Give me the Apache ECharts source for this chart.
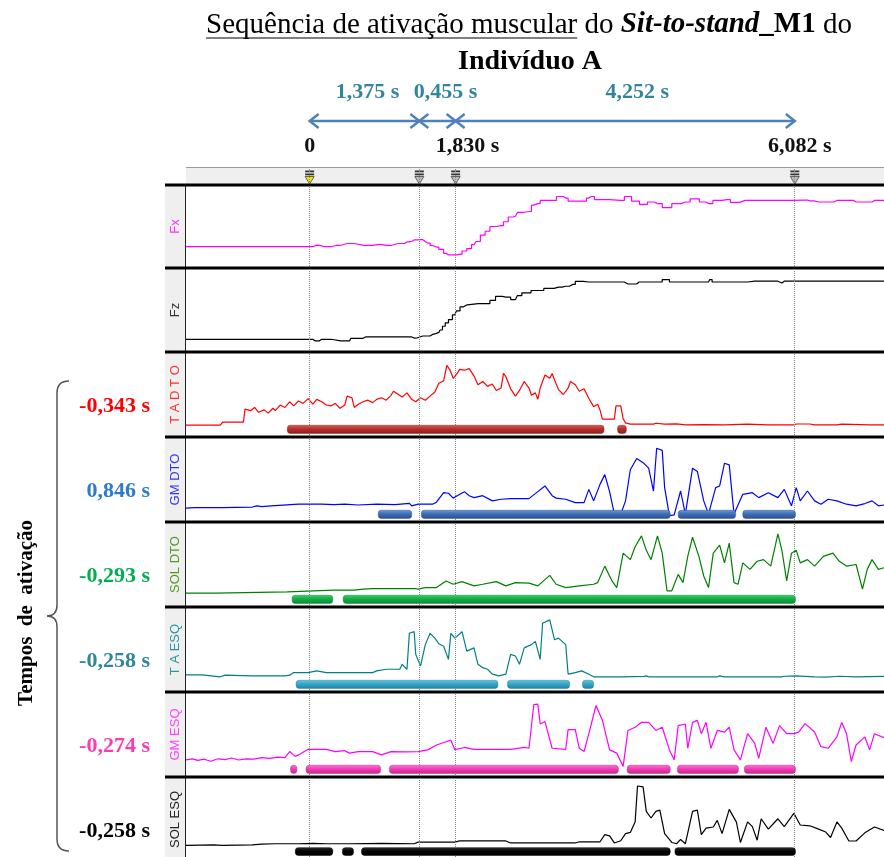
<!DOCTYPE html>
<html>
<head>
<meta charset="utf-8">
<script src="https://cdn.jsdelivr.net/npm/echarts@6/dist/echarts.min.js"></script>
<style>
html, body { margin: 0; padding: 0; background: #fff; }
#chart { width: 884px; height: 857px; }
</style>
</head>
<body>
<div id="chart"></div>
<script>
// eixo do tempo (s)
const tMin = -1.55, tMax = 7.2;

// eventos do sit-to-stand
const eventTimes = [0, 1.375, 1.830, 6.082];
const eventLabels = ['0', '', '1,830 s', '6,082 s'];
const phases = [[0, 1.375], [1.375, 1.830], [1.830, 6.082]];
const phaseLabels = ['1,375 s', '0,455 s', '4,252 s'];

const channels = ['Fx', 'Fz', 'T A D T O', 'GM DTO', 'SOL DTO', 'T A ESQ', 'GM ESQ', 'SOL ESQ'];
const activationLabels = ['-0,343 s', '0,846 s', '-0,293 s', '-0,258 s', '-0,274 s', '-0,258 s'];

// sinais [t, % da altura do painel]
const fx = [[-1.55,24.4],[0.04,24.4],[0.05,26.4],[0.12,26],[0.15,25.5],[0.18,24.4],[0.27,24.4],[0.28,26],[0.38,26],[0.39,28.5],[0.56,28.5],[0.57,26],[0.79,26],[0.80,27],[0.90,27],[0.91,26],[1.02,26],[1.03,28.5],[1.19,28.5],[1.22,30.5],[1.28,31.3],[1.31,33],[1.39,33.3],[1.45,31],[1.48,29],[1.54,26],[1.59,24],[1.65,21],[1.71,16],[1.74,14],[1.82,14],[1.88,15],[1.94,19],[2.00,22],[2.06,27],[2.11,31],[2.17,39],[2.23,44],[2.29,50],[2.40,51],[2.46,56],[2.52,62],[2.58,63],[2.63,68],[2.75,69],[2.81,77],[2.86,79],[2.92,83],[3.04,83],[3.15,88],[3.21,86],[3.27,82],[3.44,82],[3.50,86],[3.53,88],[3.61,84],[3.90,83],[3.99,88],[4.08,82],[4.19,78],[4.28,81],[4.36,79],[4.48,74],[4.60,79],[4.71,81],[4.83,85],[4.94,81],[5.00,79],[5.11,83],[5.23,84],[5.32,80.5],[5.46,83],[5.87,83],[6.21,83.5],[6.27,82.5],[6.38,81],[6.53,81],[6.61,83],[6.79,83],[6.85,81],[7.02,81],[7.08,83],[7.2,83]];
const fz = [[-1.55,13.4],[0.04,13.4],[0.07,11.4],[0.12,11.4],[0.15,13.4],[0.27,13.4],[0.28,11.4],[0.50,11.4],[0.53,14.6],[0.67,14.6],[0.70,16.3],[1.28,16.3],[1.30,14.8],[1.33,15],[1.36,17.5],[1.48,17.5],[1.54,19.5],[1.58,20.5],[1.62,22],[1.65,25],[1.68,29.7],[1.72,34],[1.76,38],[1.82,44],[1.86,49],[1.91,54],[1.95,56.5],[2.00,58],[2.23,58],[2.29,62],[2.37,67],[2.46,66],[2.58,63],[2.63,68],[2.69,71.5],[2.86,74.4],[3.01,77],[3.12,78.5],[3.21,79.7],[3.30,82],[3.36,85.8],[3.50,85],[3.90,85],[3.99,82.5],[4.10,82.5],[4.13,85],[4.36,85],[4.48,88],[4.54,85],[4.65,85],[5.00,85],[5.03,88],[5.06,85],[5.40,85],[5.58,86],[5.87,86],[5.92,83.7],[5.95,86],[7.2,86]];
const taDto = [[-1.55,12.2],[-1.12,12.2],[-1.11,13.4],[-1.09,16],[-0.83,16],[-0.81,32],[-0.74,30],[-0.69,34],[-0.64,28],[-0.57,31],[-0.52,27],[-0.46,33],[-0.43,30],[-0.37,37],[-0.31,34],[-0.25,41],[-0.20,36],[-0.14,42],[-0.08,39],[-0.02,45],[0.04,38],[0.09,44],[0.15,41],[0.21,37],[0.27,36],[0.32,39],[0.38,33],[0.44,37],[0.47,48],[0.53,46],[0.56,34],[0.61,38],[0.67,41],[0.73,43],[0.79,40],[0.84,44],[0.90,46],[0.96,43],[1.02,49],[1.05,54],[1.10,51],[1.16,47],[1.22,52],[1.28,44],[1.33,41],[1.39,46],[1.45,43],[1.51,48],[1.57,53],[1.62,64],[1.68,67],[1.72,86],[1.76,80],[1.80,70],[1.85,76],[1.88,81],[1.94,80],[2.00,82],[2.06,73],[2.11,62],[2.17,66],[2.23,60],[2.29,63],[2.34,55],[2.40,58],[2.43,76],[2.46,72],[2.52,57],[2.58,48],[2.63,55],[2.69,66],[2.75,58],[2.78,49],[2.83,52],[2.86,44],[2.89,58],[2.95,74],[3.01,70],[3.04,76],[3.07,68],[3.12,56],[3.18,50],[3.24,58],[3.27,66],[3.33,62],[3.38,54],[3.44,57],[3.50,45],[3.56,35],[3.61,38],[3.64,31],[3.67,19.5],[3.82,19.5],[3.84,36],[3.90,36],[3.93,20],[3.96,15],[4.02,13.5],[4.31,13.5],[4.34,14.5],[4.45,13.5],[4.60,13.8],[4.71,12.4],[4.94,12.8],[5.20,12.4],[5.49,13.5],[5.75,12.4],[6.07,12.4],[6.10,13.6],[6.27,13.6],[6.33,12.4],[6.61,12.4],[6.67,13.4],[7.02,12.6],[7.2,12.6]];
const gmDto = [[-1.55,14.6],[-1.45,15.2],[-1.10,15.2],[-0.72,16],[-0.66,17.5],[-0.60,16.5],[-0.48,17.5],[-0.14,19.5],[0.15,19.5],[0.30,19],[0.44,19.5],[0.61,18.5],[0.84,19.5],[1.07,19],[1.25,20.5],[1.28,17.5],[1.36,19.5],[1.54,19.5],[1.59,22],[1.62,26],[1.68,33.7],[1.74,33],[1.80,27],[1.85,30],[1.94,35],[2.00,30],[2.06,27.6],[2.17,30],[2.29,23.6],[2.40,25.6],[2.52,26.4],[2.75,26.4],[2.86,35],[2.95,42],[3.04,30],[3.09,27],[3.21,25.6],[3.33,21.5],[3.44,21.5],[3.50,37.8],[3.56,23.6],[3.64,44],[3.70,56],[3.76,35],[3.82,7.3],[3.90,7.3],[3.96,23.6],[4.02,62],[4.10,76],[4.19,70],[4.25,64],[4.31,35.8],[4.35,88.6],[4.42,86],[4.45,40],[4.51,5.3],[4.57,6.3],[4.65,35.8],[4.71,7.3],[4.80,64],[4.86,60],[4.94,23.6],[5.00,7.3],[5.09,40],[5.14,42],[5.20,70],[5.26,68],[5.32,7.3],[5.43,31.7],[5.55,33.7],[5.63,27.6],[5.75,33.7],[5.87,27.6],[5.95,37.8],[6.04,17.5],[6.10,40],[6.15,23.6],[6.24,35.8],[6.33,23.6],[6.41,19.5],[6.50,25.6],[6.61,23.6],[6.73,19.5],[6.85,17.5],[6.96,20.3],[7.05,23.6],[7.13,17.5],[7.2,18.5]];
const solDto = [[-1.55,14.6],[-1.18,14.6],[-1.16,16.3],[-0.28,16.3],[-0.26,18.3],[0.30,18.3],[0.32,16.3],[0.38,18.3],[0.56,18.3],[0.67,19.5],[0.79,20.3],[1.33,20.3],[1.36,19.5],[1.45,21.5],[1.59,21.5],[1.71,29.7],[1.80,25.6],[1.91,28.9],[2.06,23.6],[2.17,25.6],[2.34,28.9],[2.46,23.6],[2.58,27.6],[2.75,27],[2.86,23.6],[3.01,36.6],[3.09,25.6],[3.21,21.5],[3.38,23.6],[3.56,25.6],[3.61,27.6],[3.70,48],[3.79,29.7],[3.85,21.5],[3.93,64],[4.02,56],[4.08,72],[4.16,85.4],[4.22,67.5],[4.28,56],[4.36,85.4],[4.42,64],[4.48,17.5],[4.54,17.5],[4.62,37.8],[4.68,27.6],[4.74,60],[4.80,83.7],[4.88,60],[4.94,35.8],[5.00,21.5],[5.06,64],[5.14,74],[5.20,52],[5.26,76.4],[5.32,27.6],[5.37,25.6],[5.43,52],[5.52,44],[5.61,54],[5.69,56],[5.78,48],[5.87,87.8],[5.92,67.5],[5.98,29.7],[6.04,64],[6.10,67.5],[6.15,52],[6.24,56],[6.33,48],[6.44,60],[6.56,64],[6.64,54],[6.73,48],[6.85,50],[6.93,19.5],[6.99,44],[7.05,56],[7.13,44],[7.2,46]];
const taEsq = [[-1.55,18.7],[-1.35,18.7],[-1.33,16.3],[-1.12,16.3],[-1.06,18.3],[-0.72,17.5],[-0.31,17.5],[-0.25,18.3],[-0.20,21.5],[-0.02,21.5],[0.09,23.6],[0.21,21.5],[0.79,21.5],[0.84,23.6],[0.96,25.6],[1.13,25.6],[1.16,31.7],[1.22,25.6],[1.25,70],[1.31,72],[1.33,44],[1.39,29.7],[1.45,56],[1.51,70],[1.57,64],[1.62,57],[1.68,54],[1.74,37.8],[1.77,70],[1.82,64],[1.91,72],[1.97,48],[2.06,52],[2.11,31.7],[2.17,27.6],[2.23,25.6],[2.29,19.5],[2.37,17.5],[2.46,19.5],[2.52,44],[2.58,42],[2.63,31.7],[2.69,52],[2.78,56],[2.83,60],[2.89,37.8],[2.92,82.5],[3.01,86.6],[3.07,62],[3.12,64],[3.21,56],[3.24,19.5],[3.33,21.5],[3.41,23.6],[3.50,19.5],[3.56,16.3],[3.90,16.3],[4.19,16.8],[4.22,17.5],[4.25,16.3],[5.11,16.3],[5.14,17.5],[5.20,16.3],[5.92,16.3],[5.95,17],[6.10,17.5],[6.33,16.3],[6.47,15.8],[6.64,17],[6.85,16.3],[7.2,16.8]];
const gmEsq = [[-1.55,18.7],[-1.47,20],[-1.40,18],[-1.32,19.5],[-1.24,17],[-1.15,20],[-1.06,19],[-0.98,21],[-0.89,18.5],[-0.80,20],[-0.70,19.5],[-0.60,21.5],[-0.50,20.5],[-0.40,22],[-0.31,21.5],[-0.25,29],[-0.18,23],[-0.14,24.8],[-0.02,31.7],[0.09,31.7],[0.21,31.7],[0.32,28.9],[0.44,30],[0.50,27],[0.61,28.9],[0.79,28.9],[0.90,24.8],[1.02,28.9],[1.19,28.5],[1.36,28.9],[1.48,31],[1.59,37],[1.71,41],[1.77,43],[1.82,31.3],[1.94,34],[2.06,31.7],[2.52,31.7],[2.69,34],[2.75,33],[2.81,87],[2.86,87.5],[2.89,63],[2.95,66],[3.04,33],[3.21,31.7],[3.24,56],[3.33,56],[3.38,33],[3.44,28.9],[3.50,51],[3.59,85.8],[3.67,67.5],[3.76,31],[3.85,27],[3.93,10.6],[3.99,55],[4.08,59],[4.16,65],[4.25,65],[4.34,55],[4.42,59],[4.51,31],[4.57,18.7],[4.62,61],[4.71,63],[4.74,33],[4.80,65],[4.86,67.5],[4.91,51],[4.97,65],[5.03,33],[5.11,55],[5.20,53],[5.26,59],[5.32,31],[5.40,18.7],[5.49,51],[5.58,39],[5.63,20.7],[5.72,59],[5.81,39],[5.89,61],[5.98,51],[6.07,51],[6.13,53],[6.21,63.4],[6.33,53],[6.41,35],[6.50,33],[6.61,47],[6.67,65],[6.73,51],[6.79,16.7],[6.85,37],[6.96,47],[7.02,31],[7.08,51],[7.2,46]];
const solEsq = [[-1.55,15],[-1.20,15.5],[-1.10,15],[-0.72,15.5],[-0.60,16.5],[-0.43,17],[-0.14,17],[0.04,17.5],[0.21,17],[0.50,17],[0.90,17.5],[1.31,17],[1.36,19],[1.82,19],[1.88,20.6],[2.46,20.6],[2.52,18],[3.33,18],[3.38,19.5],[3.64,19.5],[3.70,28.7],[3.76,27],[3.82,18],[3.90,20.8],[3.96,30],[4.02,31.5],[4.08,45],[4.11,91],[4.18,90],[4.22,58.5],[4.28,50],[4.34,58.5],[4.39,60],[4.45,30],[4.54,18.6],[4.60,17],[4.65,22.5],[4.71,17],[4.80,58.5],[4.86,60],[4.91,28.7],[4.97,37],[5.06,38.5],[5.11,47],[5.17,30],[5.26,61],[5.35,44.7],[5.40,18.6],[5.49,45],[5.55,39],[5.61,21.5],[5.66,49],[5.75,35.7],[5.87,49],[5.95,39],[6.07,56],[6.15,41],[6.27,40],[6.38,35.7],[6.47,32],[6.53,25],[6.61,45],[6.67,37],[6.76,20.5],[6.85,20.5],[6.96,31],[7.08,38.5],[7.2,34]];

// períodos de ativação [início, fim] (s)
const taDtoOn = [[-0.28, 3.69], [3.86, 3.97]];
const gmDtoOn = [[0.86, 1.28], [1.40, 4.52], [4.62, 5.34], [5.43, 6.09]];
const solDtoOn = [[-0.22, 0.29], [0.42, 6.09]];
const taEsqOn = [[-0.17, 2.36], [2.48, 3.26], [3.42, 3.56]];
const gmEsqOn = [[-0.24, -0.16], [-0.045, 0.89], [1.0, 3.87], [3.98, 4.52], [4.61, 5.375], [5.45, 6.09]];
const solEsqOn = [[-0.18, 0.29], [0.41, 0.55], [0.65, 4.52], [4.58, 6.09]];

const signals = [fx, fz, taDto, gmDto, solDto, taEsq, gmEsq, solEsq];
const activations = [null, null, taDtoOn, gmDtoOn, solDtoOn, taEsqOn, gmEsqOn, solEsqOn];

const lineColors = ['#ff00ff', '#000000', '#ff0000', '#0000ff', '#008000', '#008080', '#ff00ff', '#000000'];
const nameColors = ['#ff33ff', '#333333', '#ff3030', '#3333ff', '#4f9a20', '#239a9a', '#ff40ff', '#222222'];
const barColors = [null, null,
  ['#d9605c', '#b5302c', '#8c1e1b'],
  ['#6f9ad6', '#3d6fb6', '#2a5290'],
  ['#3cd06a', '#13ad47', '#0b8a35'],
  ['#6cc6e0', '#35a6c8', '#2384a2'],
  ['#ff73d2', '#f23cb4', '#c42690'],
  ['#333333', '#000000', '#000000']];
const activationColors = ['#ff0000', '#2e7bc9', '#00b050', '#31859c', '#ff3aae', '#000000'];

// layout
const serif = '"Liberation Serif", "Times New Roman", serif';
const sans = '"Liberation Sans", Arial, sans-serif';
const plotLeft = 186, plotWidth = 698;
const edges = [185, 268, 352, 437, 522, 607, 692, 777, 862];
const phaseShift = [3, 8, 12];
const eventShift = [0, 0, 12, 5];

const chart = echarts.init(document.getElementById('chart'));

const grids = [
  { left: plotLeft, width: plotWidth, top: 108, height: 26 },
  { left: plotLeft, width: plotWidth, top: 168, height: 16, show: true, backgroundColor: '#efefef', borderWidth: 0 }
];
const xAxes = [], yAxes = [];
for (let i = 0; i < channels.length; i++) {
  grids.push({ left: plotLeft, width: plotWidth, top: edges[i] + 2, height: edges[i + 1] - edges[i] - 4 });
}
grids.forEach((g, i) => {
  xAxes.push({ gridIndex: i, type: 'value', min: tMin, max: tMax, show: false });
  yAxes.push({ gridIndex: i, type: 'value', min: 0, max: i < 2 ? 1 : 100, show: false });
});

const series = [];

// setas das fases
series.push({
  type: 'custom', xAxisIndex: 0, yAxisIndex: 0, silent: true,
  data: phases,
  renderItem: function (params, api) {
    const p1 = api.coord([api.value(0), 0.5]);
    const p2 = api.coord([api.value(1), 0.5]);
    const y = p1[1];
    const st = { stroke: '#4f81bd', lineWidth: 2.5, fill: null };
    return {
      type: 'group',
      children: [
        { type: 'line', shape: { x1: p1[0], y1: y, x2: p2[0], y2: y }, style: st },
        { type: 'polyline', shape: { points: [[p1[0] + 9, y - 7], [p1[0], y], [p1[0] + 9, y + 7]] }, style: st },
        { type: 'polyline', shape: { points: [[p2[0] - 9, y - 7], [p2[0], y], [p2[0] - 9, y + 7]] }, style: st },
        {
          type: 'text', x: (p1[0] + p2[0]) / 2 + phaseShift[params.dataIndex], y: y - 29,
          style: { text: phaseLabels[params.dataIndex], font: 'bold 22px ' + serif, fill: '#31859c', align: 'center', verticalAlign: 'middle' }
        }
      ]
    };
  }
});

// rótulos dos eventos
series.push({
  type: 'custom', xAxisIndex: 0, yAxisIndex: 0, silent: true,
  data: eventTimes.map(t => [t, 0.5]),
  renderItem: function (params, api) {
    const p = api.coord([api.value(0), 0.5]);
    return {
      type: 'text', x: p[0] + eventShift[params.dataIndex], y: p[1] + 25,
      style: { text: eventLabels[params.dataIndex], font: 'bold 22px ' + serif, fill: '#111', align: 'center', verticalAlign: 'middle' }
    };
  }
});

// marcadores na régua
const dotted = {
  silent: true, symbol: 'none', label: { show: false }, animation: false,
  lineStyle: { type: 'dotted', color: '#8a8a8a', width: 1 },
  data: eventTimes.map(t => ({ xAxis: t }))
};
series.push({
  type: 'custom', xAxisIndex: 1, yAxisIndex: 1, silent: true,
  data: eventTimes.map(t => [t, 1]),
  renderItem: function (params, api) {
    const p = api.coord([api.value(0), 1]);
    const x = p[0], y = p[1];
    return {
      type: 'group',
      children: [
        { type: 'rect', shape: { x: x - 4.5, y: y + 2.5, width: 9, height: 1.8 }, style: { fill: '#333' } },
        { type: 'rect', shape: { x: x - 4.5, y: y + 5.5, width: 9, height: 1.8 }, style: { fill: '#333' } },
        { type: 'polygon', shape: { points: [[x - 4.5, y + 8.5], [x + 4.5, y + 8.5], [x, y + 16]] },
          style: { fill: params.dataIndex === 0 ? '#f7e400' : '#bdbdbd', stroke: '#444', lineWidth: 0.8 } }
      ]
    };
  }
});
series.push({ type: 'line', xAxisIndex: 1, yAxisIndex: 1, data: [], markLine: dotted });

// painéis (forças em degraus, EMG linear)
signals.forEach((data, i) => {
  series.push({
    type: 'line', xAxisIndex: i + 2, yAxisIndex: i + 2,
    data: data, showSymbol: false, silent: true, step: i < 2 ? 'middle' : false,
    lineStyle: { color: lineColors[i], width: 1.2 },
    markLine: dotted
  });
  if (activations[i]) {
    const c = barColors[i];
    series.push({
      type: 'custom', xAxisIndex: i + 2, yAxisIndex: i + 2, silent: true, z: 5,
      data: activations[i],
      renderItem: function (params, api) {
        const a = api.coord([api.value(0), 12]);
        const b = api.coord([api.value(1), 2]);
        return {
          type: 'rect',
          shape: { x: a[0], y: a[1], width: b[0] - a[0], height: b[1] - a[1], r: 3 },
          style: {
            fill: { type: 'linear', x: 0, y: 0, x2: 0, y2: 1, colorStops: [
              { offset: 0, color: c[0] }, { offset: 0.45, color: c[1] }, { offset: 1, color: c[2] }] },
            stroke: c[2], lineWidth: 0.5
          }
        };
      }
    });
  }
});

// título e anotações
const meas = document.createElement('canvas').getContext('2d');
function textW(txt, font) { meas.font = font; return meas.measureText(txt).width; }

const titleParts = [
  { text: 'Sequência de ativação muscular', font: '29px ' + serif },
  { text: ' do ', font: '29px ' + serif },
  { text: 'Sit-to-stand', font: 'italic bold 29px ' + serif },
  { text: '_M1', font: 'bold 29px ' + serif },
  { text: ' do', font: '29px ' + serif }
];
const graphics = [];
let total = 0;
titleParts.forEach(p => { p.w = textW(p.text, p.font); total += p.w; });
let cx = 529 - total / 2;
titleParts.forEach((p, k) => {
  graphics.push({ type: 'text', x: cx, y: 25, style: { text: p.text, font: p.font, fill: '#000', align: 'left', verticalAlign: 'middle' } });
  if (k === 0) {
    graphics.push({ type: 'line', shape: { x1: cx, y1: 38, x2: cx + p.w, y2: 38 }, style: { stroke: '#000', lineWidth: 1.2 } });
  }
  cx += p.w;
});
graphics.push({ type: 'text', x: 530, y: 62, style: { text: 'Indivíduo A', font: 'bold 28px ' + serif, fill: '#000', align: 'center', verticalAlign: 'middle' } });

// régua superior
graphics.push({ type: 'line', z: 100, shape: { x1: plotLeft, y1: 167.5, x2: 884, y2: 167.5 }, style: { stroke: '#9a9a9a', lineWidth: 1 } });

// faixa dos nomes dos canais
graphics.push({ type: 'rect', z: 90, shape: { x: 165, y: edges[0], width: 20, height: edges[8] - edges[0] }, style: { fill: '#efefef' } });
graphics.push({ type: 'line', z: 100, shape: { x1: 185.5, y1: edges[0], x2: 185.5, y2: edges[8] }, style: { stroke: '#222', lineWidth: 1 } });
edges.forEach(y => {
  graphics.push({ type: 'line', z: 100, shape: { x1: 165, y1: y, x2: 884, y2: y }, style: { stroke: '#000', lineWidth: 3 } });
});
channels.forEach((name, i) => {
  graphics.push({
    type: 'text', z: 100, x: 175.5, y: (edges[i] + edges[i + 1]) / 2, rotation: Math.PI / 2,
    style: { text: name, font: '13px ' + sans, fill: nameColors[i], align: 'center', verticalAlign: 'middle' }
  });
});

// tempos de ativação
activationLabels.forEach((txt, k) => {
  const i = k + 2;
  graphics.push({
    type: 'text', x: 150, y: (edges[i] + edges[i + 1]) / 2 + 12,
    style: { text: txt, font: 'bold 22px ' + serif, fill: activationColors[k], align: 'right', verticalAlign: 'middle' }
  });
});
// chave
const braceStyle = { stroke: '#555', lineWidth: 1.5, fill: null };
graphics.push({ type: 'bezierCurve', shape: { x1: 69, y1: 381, cpx1: 57, cpy1: 381, x2: 57, y2: 393 }, style: braceStyle });
graphics.push({ type: 'line', shape: { x1: 57, y1: 393, x2: 57, y2: 605 }, style: braceStyle });
graphics.push({ type: 'bezierCurve', shape: { x1: 57, y1: 605, cpx1: 57, cpy1: 616, x2: 47, y2: 616 }, style: braceStyle });
graphics.push({ type: 'bezierCurve', shape: { x1: 47, y1: 616, cpx1: 57, cpy1: 616, x2: 57, y2: 627 }, style: braceStyle });
graphics.push({ type: 'line', shape: { x1: 57, y1: 627, x2: 57, y2: 839 }, style: braceStyle });
graphics.push({ type: 'bezierCurve', shape: { x1: 57, y1: 839, cpx1: 57, cpy1: 851, x2: 69, y2: 851 }, style: braceStyle });
graphics.push({
  type: 'text', x: 27, y: 613, rotation: Math.PI / 2,
  style: { text: 'Tempos  de  ativação', font: 'bold 21px ' + serif, fill: '#000', align: 'center', verticalAlign: 'middle' }
});

chart.setOption({
  animation: false,
  backgroundColor: '#fff',
  grid: grids,
  xAxis: xAxes,
  yAxis: yAxes,
  series: series,
  graphic: { elements: graphics }
});
</script>
</body>
</html>
